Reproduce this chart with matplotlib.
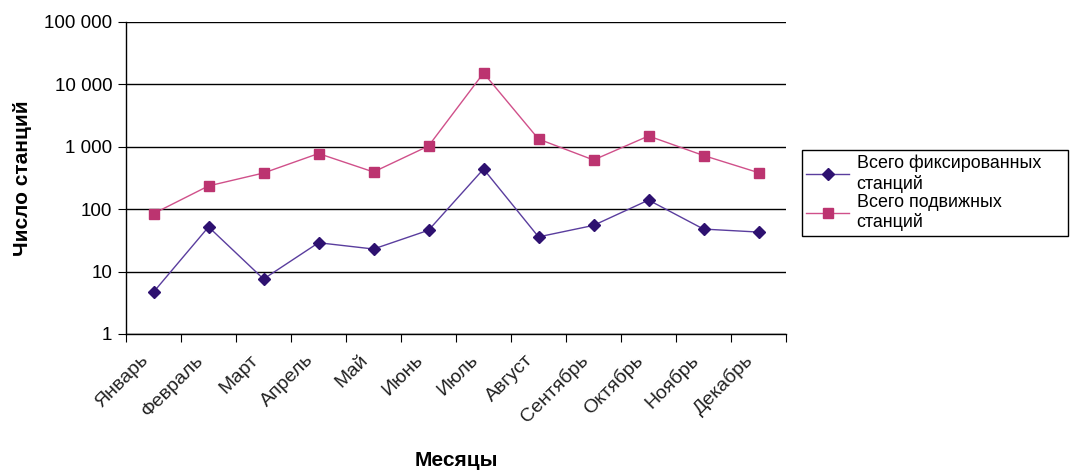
import matplotlib.pyplot as plt
from matplotlib.ticker import FixedLocator, FuncFormatter, NullLocator
from matplotlib.transforms import ScaledTranslation

plt.rcParams['font.family'] = ['Liberation Sans', 'DejaVu Sans']

# Данные
months = ['Январь', 'Февраль', 'Март', 'Апрель', 'Май', 'Июнь',
          'Июль', 'Август', 'Сентябрь', 'Октябрь', 'Ноябрь', 'Декабрь']
fixed = [4.7, 52, 7.6, 29, 23, 46, 440, 36, 55, 140, 48, 43]
mobile = [85, 236, 380, 780, 395, 1030, 15200, 1330, 615, 1490, 725, 385]

fig = plt.figure(figsize=(10.7, 4.72), dpi=100)
ax = fig.add_axes([0.1178, 0.2924, 0.6168, 0.661])

x = list(range(len(months)))
ax.plot(x, fixed, color='#5a3d9e', lw=1, marker='D', ms=6.5,
        mfc='#2e1170', mec='#2e1170', label='Всего фиксированных\nстанций')
ax.plot(x, mobile, color='#d0508a', lw=1, marker='s', ms=7,
        mfc='#bc3470', mec='#bc3470', label='Всего подвижных\nстанций')

ax.set_yscale('log')
ax.set_ylim(1, 100000)
ax.set_xlim(-0.5, len(months) - 0.5)
ax.yaxis.set_major_locator(FixedLocator([1, 10, 100, 1000, 10000, 100000]))
ax.yaxis.set_minor_locator(NullLocator())
ax.yaxis.set_major_formatter(FuncFormatter(lambda v, p: '{:,.0f}'.format(v).replace(',', ' ')))
ax.grid(axis='y', color='black', lw=1)

# Деления на границах категорий, подписи по центру
ax.set_xticks([i - 0.5 for i in range(len(months) + 1)])
ax.set_xticklabels([])
ax.set_xticks(x, minor=True)
ax.set_xticklabels(months, minor=True, rotation=45, ha='right', va='center',
                   rotation_mode='anchor', fontsize=14, color='#222222')
ax.tick_params(axis='x', which='minor', length=0, pad=17)
ax.tick_params(axis='x', which='major', length=6, direction='out')
ax.tick_params(axis='y', length=6, direction='out', labelsize=13.5, pad=4)
shift = ScaledTranslation(-0.08, 0, fig.dpi_scale_trans)
for lab in ax.get_xticklabels(minor=True):
    lab.set_transform(lab.get_transform() + shift)

for s in ['top', 'right']:
    ax.spines[s].set_visible(False)
ax.spines['left'].set_linewidth(1)
ax.spines['bottom'].set_linewidth(1)

ax.set_ylabel('Число станций', fontsize=15, fontweight='bold', labelpad=9)
ax.set_xlabel('Месяцы', fontsize=15, fontweight='bold')
ax.xaxis.set_label_coords(0.5, -0.375)

leg = ax.legend(loc='upper left', bbox_to_anchor=(1.024, 0.33, 0.403, 0.26),
                mode='expand', fontsize=12.9,
                frameon=True, fancybox=False, edgecolor='black', framealpha=1,
                handlelength=2.4, labelspacing=0.05, borderpad=0.25,
                handletextpad=0.4, borderaxespad=0)
leg.get_frame().set_linewidth(1)

fig.savefig('out.png', dpi=100)
